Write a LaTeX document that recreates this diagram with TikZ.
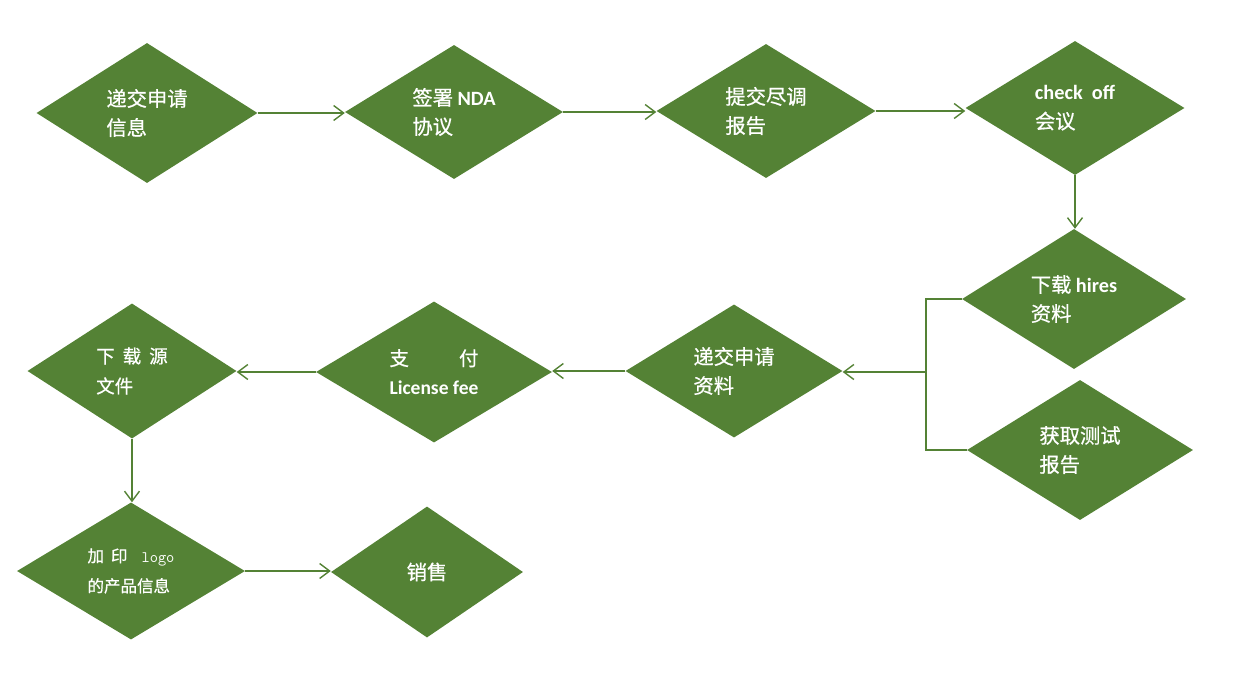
\documentclass[tikz,border=0pt]{standalone}
\usepackage{fontspec}
\setmainfont{Noto Sans CJK SC}[FakeBold=0.7]
\newfontfamily\latfont{Carlito}
\usetikzlibrary{shapes.geometric,arrows.meta}

\definecolor{leafgreen}{RGB}{84,130,53}
\newcommand{\lat}[1]{{\latfont\bfseries #1}}
\newcommand{\gap}[1]{\hspace{#1pt}}

\begin{document}
\begin{tikzpicture}[
    x=1pt, y=-1pt,
    stage/.style 2 args={diamond, fill=leafgreen, inner sep=0pt,
        minimum width=#1pt, minimum height=#2pt,
        text=white, align=left, font=\fontsize{20.3}{29}\selectfont},
    flow/.style={draw=leafgreen, line width=1.4pt,
        -{Straight Barb[length=10pt,width=15pt]}},
    joint/.style={draw=leafgreen, line width=1.4pt}
]
    \useasboundingbox (0,0) rectangle (1246,685);

    % top row
    \node [stage={221}{140}] (d1) at (147,113) {递交申请\\信息};
    \node [stage={218}{134}] (d2) at (454,112) {签署 \lat{NDA}\\协议};
    \node [stage={219}{134}] (d3) at (766,111) {提交尽调\\报告};
    \node [stage={219}{134}] (d4) at (1075,108) {\lat{check\ \ off}\\会议};

    % right column
    \node [stage={224}{140}] (d5) at (1074,299) {下载 \lat{hires}\\资料};
    \node [stage={226}{140}] (d6) at (1080,450) {获取测试\\报告};

    % middle row
    \node [stage={217}{133}] (d7) at (734,371) {递交申请\\资料};
    \node [stage={236}{141}, font=\fontsize{19.5}{29}\selectfont] (d8) at (434,372)
        {支\gap{50}付\\\lat{License fee}};
    \node [stage={209}{135}, font=\fontsize{18.5}{30}\selectfont] (d9) at (132,371)
        {下\gap{8}载\gap{8}源\\文件};

    % bottom row
    \node [stage={228}{137}, font=\fontsize{16.5}{30}\selectfont] (d10) at (131,571)
        {加\gap{7}印\gap{14}{\ttfamily\fontsize{16}{30}\selectfont logo}\\的产品信息};
    \node [stage={192}{131}] (d11) at (427,572) {销售};

    \coordinate (jt) at (926,299);
    \coordinate (jb) at (926,450);
    \coordinate (jm) at (926,372);

    \draw [flow]
        (d1.east) -- (d1.east -| d2.west)
        ;
    \draw [flow]
        (d2.east) -- (d2.east -| d3.west)
        ;
    \draw [flow]
        (d3.east) -- (d3.east -| d4.west)
        ;
    \draw [flow]
        (d4.south) -- (d4.south |- d5.north)
        ;

    \draw [joint]
        (d5.west) -- (jt) -- (jb) -- (d6.west)
        ;
    \draw [flow]
        (jm) -- (jm -| d7.east)
        ;

    \draw [flow]
        (d7.west) -- (d7.west -| d8.east)
        ;
    \draw [flow]
        (d8.west) -- (d8.west -| d9.east)
        ;
    \draw [flow]
        (d9.south) -- (d9.south |- d10.north)
        ;
    \draw [flow]
        (d10.east) -- (d10.east -| d11.west)
        ;
\end{tikzpicture}
\end{document}
